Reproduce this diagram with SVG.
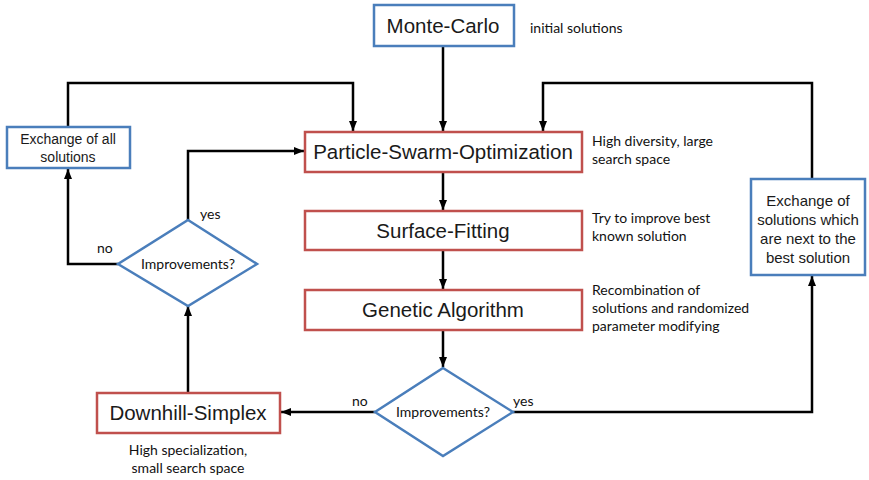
<svg xmlns="http://www.w3.org/2000/svg" width="869" height="480" viewBox="0 0 869 480">
<defs>
<marker id="ah" viewBox="0 0 10 10" refX="10" refY="5" markerWidth="4" markerHeight="4" orient="auto" markerUnits="strokeWidth">
<path d="M0,1 L10,5 L0,9 z" fill="#000"/>
</marker>
<style>
.rb{fill:#fff;stroke:#c0504d;stroke-width:2.5}
.bb{fill:#fff;stroke:#4a7ebb;stroke-width:2.5}
.lbl{font-family:"Liberation Sans",Arial,sans-serif;fill:#1a1a1a;text-anchor:middle}
.big{font-size:20.5px}
.sm{font-size:14px}
.md{font-size:15px}
.note{font-family:Lato,"Open Sans",sans-serif;font-size:14px;fill:#111}
.c{stroke:#000;stroke-width:2.5;fill:none}
</style>
</defs>
<rect width="869" height="480" fill="#fff"/>
<g id="connectors">
<line class="c" x1="443" y1="46" x2="443" y2="131" marker-end="url(#ah)"/>
<line class="c" x1="443" y1="172" x2="443" y2="210" marker-end="url(#ah)"/>
<line class="c" x1="443" y1="250" x2="443" y2="289" marker-end="url(#ah)"/>
<line class="c" x1="443" y1="330" x2="443" y2="367" marker-end="url(#ah)"/>
<polyline class="c" points="68,127 68,83 353,83 353,131" marker-end="url(#ah)"/>
<polyline class="c" points="812,179 812,83 543,83 543,131" marker-end="url(#ah)"/>
<polyline class="c" points="188,220 188,151 304,151" marker-end="url(#ah)"/>
<polyline class="c" points="118,264 68,264 68,169" marker-end="url(#ah)"/>
<line class="c" x1="188" y1="393" x2="188" y2="306" marker-end="url(#ah)"/>
<line class="c" x1="375" y1="412" x2="281" y2="412" marker-end="url(#ah)"/>
<polyline class="c" points="513,412 812,412 812,276" marker-end="url(#ah)"/>
<text class="note" x="97" y="253">no</text>
<text class="note" x="200" y="219">yes</text>
<text class="note" x="352" y="406">no</text>
<text class="note" x="513" y="406">yes</text>
</g>
<g id="monte-carlo">
<rect class="bb" x="374" y="5" width="140" height="41"/>
<text class="lbl big" x="443" y="33">Monte-Carlo</text>
<text class="note" x="530" y="33">initial solutions</text>
</g>
<g id="pso">
<rect class="rb" x="305" y="132" width="277" height="40"/>
<text class="lbl big" x="443" y="159">Particle-Swarm-Optimization</text>
<text class="note" x="592" y="146">High diversity, large</text>
<text class="note" x="592" y="164">search space</text>
</g>
<g id="surface-fitting">
<rect class="rb" x="305" y="211" width="277" height="39"/>
<text class="lbl big" x="443" y="238">Surface-Fitting</text>
<text class="note" x="592" y="223">Try to improve best</text>
<text class="note" x="592" y="241">known solution</text>
</g>
<g id="genetic-algorithm">
<rect class="rb" x="305" y="290" width="277" height="40"/>
<text class="lbl big" x="443" y="317">Genetic Algorithm</text>
<text class="note" x="592" y="295">Recombination of</text>
<text class="note" x="592" y="313">solutions and randomized</text>
<text class="note" x="592" y="331">parameter modifying</text>
</g>
<g id="decision-bottom">
<polygon class="bb" points="443,368 513,412 443,456 375,412"/>
<text class="note" x="443" y="417" text-anchor="middle">Improvements?</text>
</g>
<g id="downhill-simplex">
<rect class="rb" x="97" y="393" width="183" height="40"/>
<text class="lbl big" x="188" y="420">Downhill-Simplex</text>
<text class="note" x="188" y="455" text-anchor="middle">High specialization,</text>
<text class="note" x="188" y="473" text-anchor="middle">small search space</text>
</g>
<g id="decision-left">
<polygon class="bb" points="188,220 257,264 188,306 118,264"/>
<text class="note" x="188" y="269" text-anchor="middle">Improvements?</text>
</g>
<g id="exchange-all">
<rect class="bb" x="7" y="127" width="123" height="41"/>
<text class="lbl sm" x="68" y="144">Exchange  of all</text>
<text class="lbl sm" x="68" y="162">solutions</text>
</g>
<g id="exchange-best">
<rect class="bb" x="751" y="179" width="114" height="96"/>
<text class="lbl md" x="808" y="206">Exchange  of</text>
<text class="lbl md" x="808" y="225">solutions   which</text>
<text class="lbl md" x="808" y="244">are next  to the</text>
<text class="lbl md" x="808" y="263">best solution</text>
</g>
</svg>
